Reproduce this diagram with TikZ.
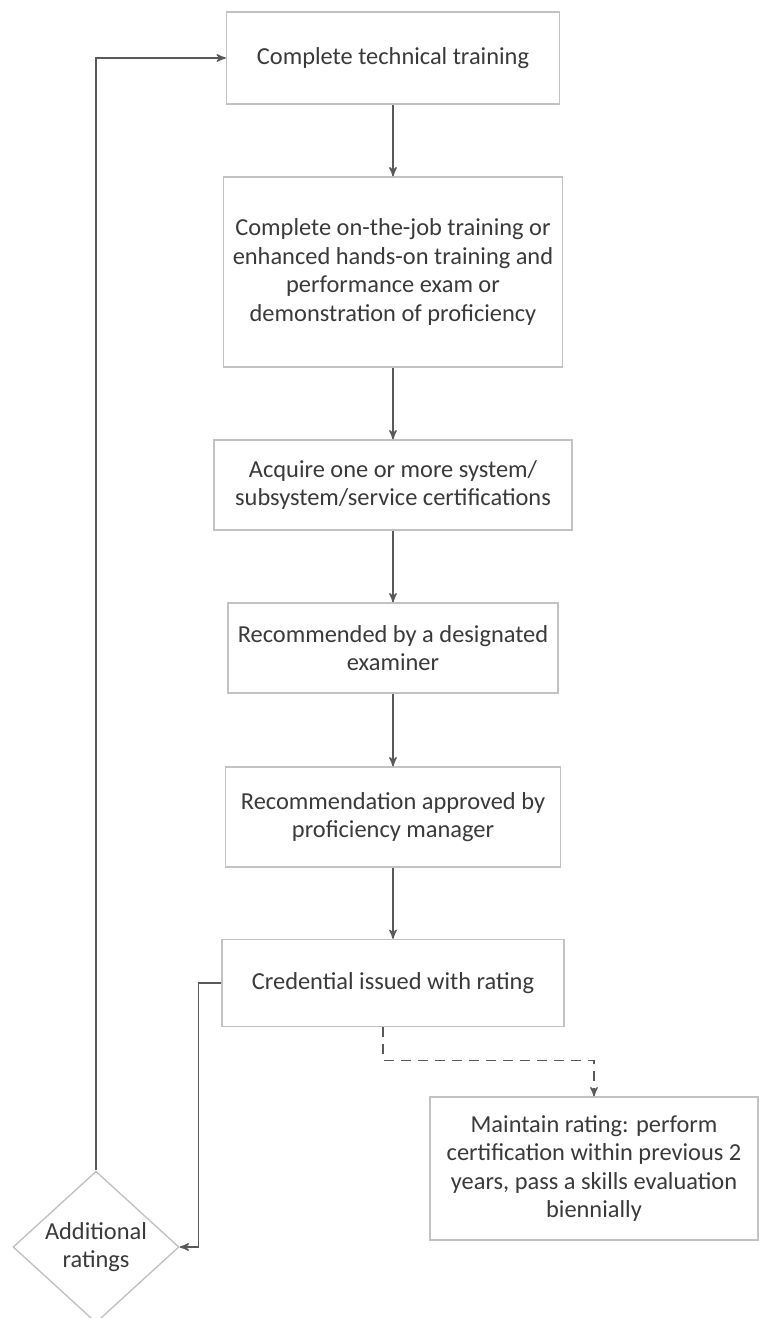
\documentclass[tikz,border=0pt]{standalone}
\usepackage{fontspec}
\setmainfont{Carlito}
\usepackage{tikz}
\usetikzlibrary{shapes,arrows}
\definecolor{linegray}{HTML}{595959}
\definecolor{boxgray}{HTML}{C2C2C2}
\definecolor{txtgray}{HTML}{3A3A3A}

\begin{document}
\begin{tikzpicture}[->,>=stealth',x=0.5pt,y=-0.5pt,line width=0.7pt,
  box/.style={rectangle,draw=boxgray,fill=white,align=center,text=txtgray,inner sep=0pt,
    font=\fontsize{12.2}{14.3}\selectfont},
  dec/.style={diamond,draw=boxgray,fill=white,align=center,text=txtgray,inner sep=0pt,
    font=\fontsize{12.2}{14.3}\selectfont}]
\useasboundingbox (0,0) rectangle (759,1318);

\node[box,minimum width=166.5pt,minimum height=46pt](q1) at (393,58) {Complete technical training};
\node[box,minimum width=169.5pt,minimum height=95pt](q2) at (393,272)
  {Complete on-the-job training or\\enhanced hands-on training and\\performance exam or\\demonstration of proficiency};
\node[box,minimum width=179pt,minimum height=45pt](q3) at (393,485)
  {Acquire one or more system/\\subsystem/service certifications};
\node[box,minimum width=165pt,minimum height=45pt](q4) at (393,648)
  {Recommended by a designated\\examiner};
\node[box,minimum width=167.5pt,minimum height=50pt](q5) at (393,817)
  {Recommendation approved by\\proficiency manager};
\node[box,minimum width=171pt,minimum height=43.5pt](q6) at (393,983) {Credential issued with rating};
\node[box,minimum width=164pt,minimum height=71.5pt](q7) at (594,1168.5)
  {Maintain rating: perform\\certification within previous 2\\years, pass a skills evaluation\\biennially};
\node[dec,minimum width=83pt,minimum height=71pt](q8) at (96,1247) {Additional\\ratings};

\draw[linegray](q1)edge(q2);
\draw[linegray](q2)edge(q3);
\draw[linegray](q3)edge(q4);
\draw[linegray](q4)edge(q5);
\draw[linegray](q5)edge(q6);

\draw[linegray](q6.west)--++(-23,0)|-(q8.east);
\draw[linegray](q8.north)|-(q1.west);
\draw[linegray,dash pattern=on 5pt off 3.5pt]([xshift=-5pt]q6.south)--++(0,33)-|(q7.north);
\end{tikzpicture}
\end{document}
